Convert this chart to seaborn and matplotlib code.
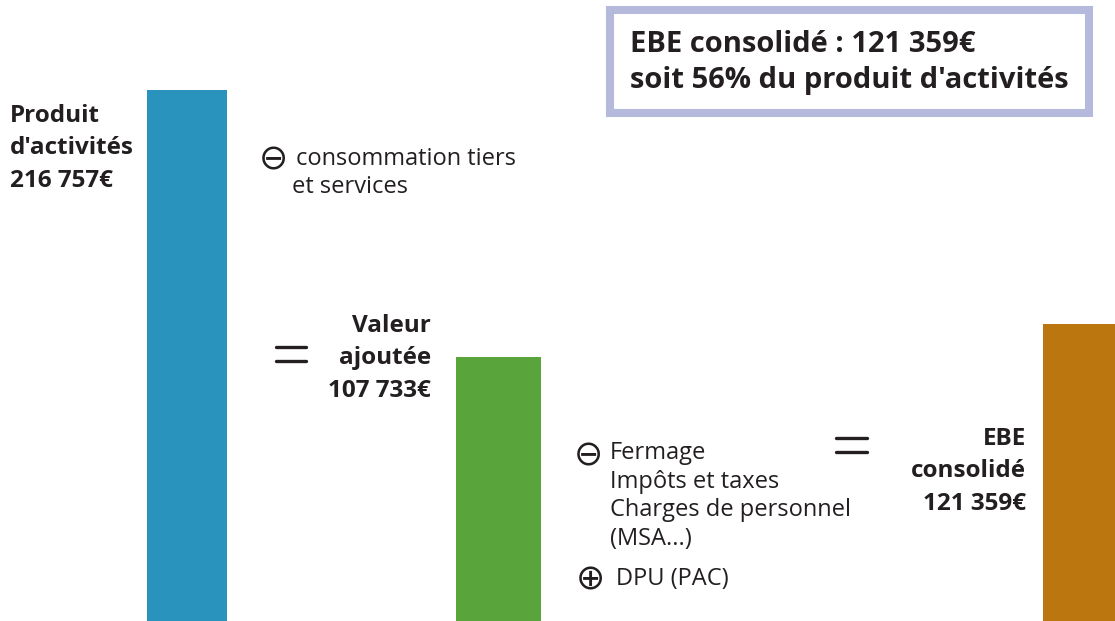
import matplotlib.pyplot as plt
import seaborn as sns
from matplotlib.patches import Rectangle

# ===========================
# DATA
# ===========================
stages = ["Produit d'activités", "Valeur ajoutée", "EBE consolidé"]
amounts = [216757, 107733, 121359]
bar_colors = ["#2a93bd", "#5aa43c", "#bb760f"]
stage_labels = [
    "Produit\nd'activités\n216 757€",
    "Valeur\najoutée\n107 733€",
    "EBE\nconsolidé\n121 359€",
]
minus_items_1 = ["consommation tiers", "et services"]
minus_items_2 = ["Fermage", "Impôts et taxes", "Charges de personnel", "(MSA...)"]
plus_items_2 = ["DPU (PAC)"]
box_lines = ["EBE consolidé : 121 359€", "soit 56% du produit d'activités"]

# ===========================
# LAYOUT (pixels of a 1115x621 canvas)
# ===========================
W, H = 1115, 621
BAR_SPANS = [(147, 227), (456, 541), (1043, 1123)]
TEXT_COLOR = "#231f20"
FONT = ["Open Sans", "DejaVu Sans"]

sns.set_theme(style="white")
plt.rcParams["font.family"] = FONT


def fx(x):
    return x / W


def fy(y):
    return 1 - y / H


fig = plt.figure(figsize=(W / 100, H / 100), dpi=100)
ax = fig.add_axes([0, 0, 1, 1])

sns.barplot(x=stages, y=amounts, hue=stages, palette=bar_colors,
            legend=False, ax=ax, saturation=1)

# place the bars like the original infographic
for patch, (x0, x1) in zip(ax.patches, BAR_SPANS):
    patch.set_x(x0)
    patch.set_width(x1 - x0)
    patch.set_edgecolor("none")

ax.set_xlim(0, W)
ax.set_ylim(0, max(amounts) * H / (H - 90))
ax.set_axis_off()

# ===========================
# LABELS
# ===========================
bold = dict(fontsize=17.5, fontweight="bold", color=TEXT_COLOR,
            linespacing=1.47, va="top")
fig.text(fx(10), fy(104), stage_labels[0], ha="left", **bold)
fig.text(fx(431), fy(314), stage_labels[1], ha="right", multialignment="right", **bold)
fig.text(fx(1026), fy(427), stage_labels[2], ha="right", multialignment="right", **bold)

reg = dict(fontsize=17, color=TEXT_COLOR, linespacing=1.26)
sym = dict(fontsize=25, color=TEXT_COLOR, va="center", ha="center",
           family="DejaVu Sans")

fig.text(fx(273), fy(159), "⊖", **sym)
fig.text(fx(296), fy(159), minus_items_1[0], ha="left", va="center", **reg)
fig.text(fx(292), fy(187), minus_items_1[1], ha="left", va="center", **reg)

fig.text(fx(588), fy(455), "⊖", **sym)
fig.text(fx(610), fy(441), "\n".join(minus_items_2), ha="left", va="top", **reg)
fig.text(fx(590), fy(579), "⊕", **sym)
fig.text(fx(616), fy(579), plus_items_2[0], ha="left", va="center", **reg)

# equal signs
for (x0, x1, y) in [(276, 306, 354), (836, 867, 445)]:
    for dy in (-7, 7):
        fig.add_artist(plt.Line2D([fx(x0), fx(x1)], [fy(y + dy), fy(y + dy)],
                                  color=TEXT_COLOR, lw=2.4,
                                  transform=fig.transFigure))

# summary box
fig.add_artist(Rectangle((fx(610), fy(113)), fx(1089) - fx(610), fy(10) - fy(113),
                         transform=fig.transFigure, facecolor="white",
                         edgecolor="#b5b9dc", lw=5.8))
fig.text(fx(630), fy(30), "\n".join(box_lines), ha="left", va="top",
         fontsize=21, fontweight="bold", color=TEXT_COLOR, linespacing=1.31)

fig.savefig("out.png", dpi=100)
